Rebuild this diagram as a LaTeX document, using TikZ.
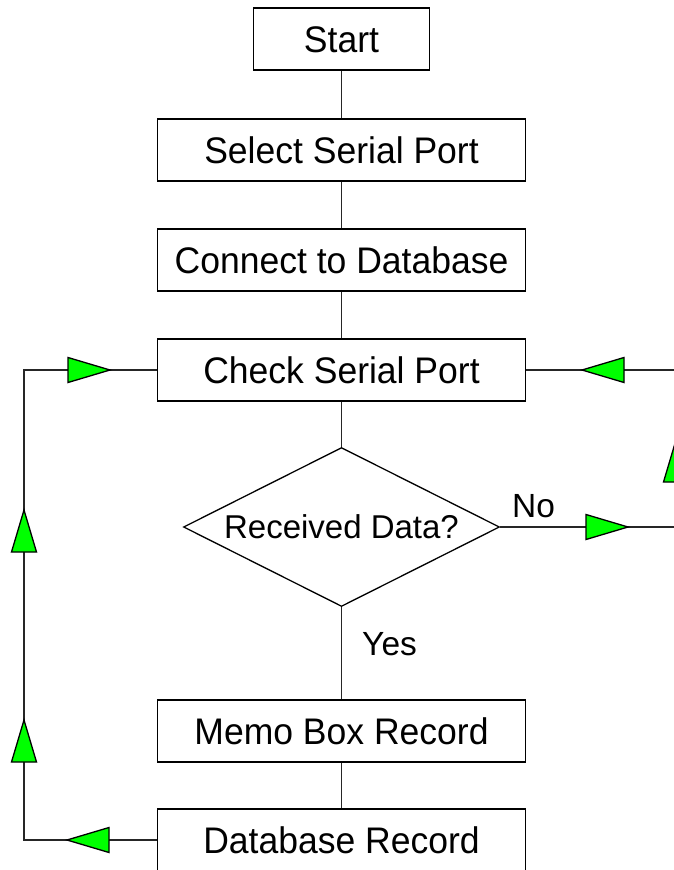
\documentclass[tikz,border=0pt]{standalone}
\usepackage{fontspec}
\setmainfont{Liberation Sans}
\newfontfamily\boxfont[FakeStretch=0.96]{Liberation Sans}
\usetikzlibrary{shapes.geometric}
\definecolor{agreen}{RGB}{0,255,0}
\tikzset{
  procbox/.style={draw=black, line width=1.5pt, rectangle, inner sep=0pt,
    minimum height=62pt, minimum width=368pt, text height=26.5pt, text depth=0pt,
    font=\boxfont\fontsize{37}{40}\selectfont},
  decbox/.style={draw=black, line width=1.3pt, diamond, shape aspect=2, inner sep=0pt,
    minimum width=316pt, minimum height=159pt, text height=23.5pt, text depth=0pt,
    font=\fontsize{33}{38}\selectfont},
  lbl/.style={inner sep=0pt, font=\fontsize{33.5}{38}\selectfont},
  conn/.style={draw=black!85, line width=1.5pt},
  garrow/.pic={\filldraw[fill=agreen, draw=black, line width=1.3pt, line join=miter]
    (0pt,0pt) -- (-42pt,12.5pt) -- (-42pt,-12.5pt) -- cycle;}
}
\begin{document}
\begin{tikzpicture}[x=1pt,y=-1pt]
\useasboundingbox (0,0) rectangle (674,870);
\node[procbox, minimum width=176pt] (start) at (341.5,39) {Start};
\node[procbox] (select) at (341.5,150) {Select Serial Port};
\node[procbox] (connect) at (341.5,260) {Connect to Database};
\node[procbox] (check) at (341.5,370) {Check Serial Port};
\node[decbox] (dec) at (341.5,527) {Received Data?};
\node[procbox] (memo) at (341.5,731) {Memo Box Record};
\node[procbox] (dbrec) at (341.5,840) {Database Record};
\coordinate (lb) at (24,840);
\coordinate (lt) at (24,370);
\coordinate (rb) at (676,527);
\coordinate (rt) at (676,370);
\draw[conn] (start.south) -- (select.north);
\draw[conn] (select.south) -- (connect.north);
\draw[conn] (connect.south) -- (check.north);
\draw[conn] (check.south) -- (dec.north);
\draw[conn] (dec.south) -- (memo.north);
\draw[conn] (memo.south) -- (dbrec.north);
\draw[conn] (dbrec.west) -- (lb) -- (lt) -- (check.west);
\draw[conn] (dec.east) -- (rb) -- (rt) -- (check.east);
\node[lbl, anchor=base west] (no) at (512,517) {No};
\node[lbl, anchor=base west] (yes) at (362,655) {Yes};
\pic at (110,370) {garrow};
\pic[rotate=90] at (24,510) {garrow};
\pic[rotate=90] at (24,720) {garrow};
\pic[rotate=180] at (67,840) {garrow};
\pic[rotate=180] at (582,370) {garrow};
\pic[rotate=90] at (676,440) {garrow};
\pic at (628,527) {garrow};
\end{tikzpicture}
\end{document}
